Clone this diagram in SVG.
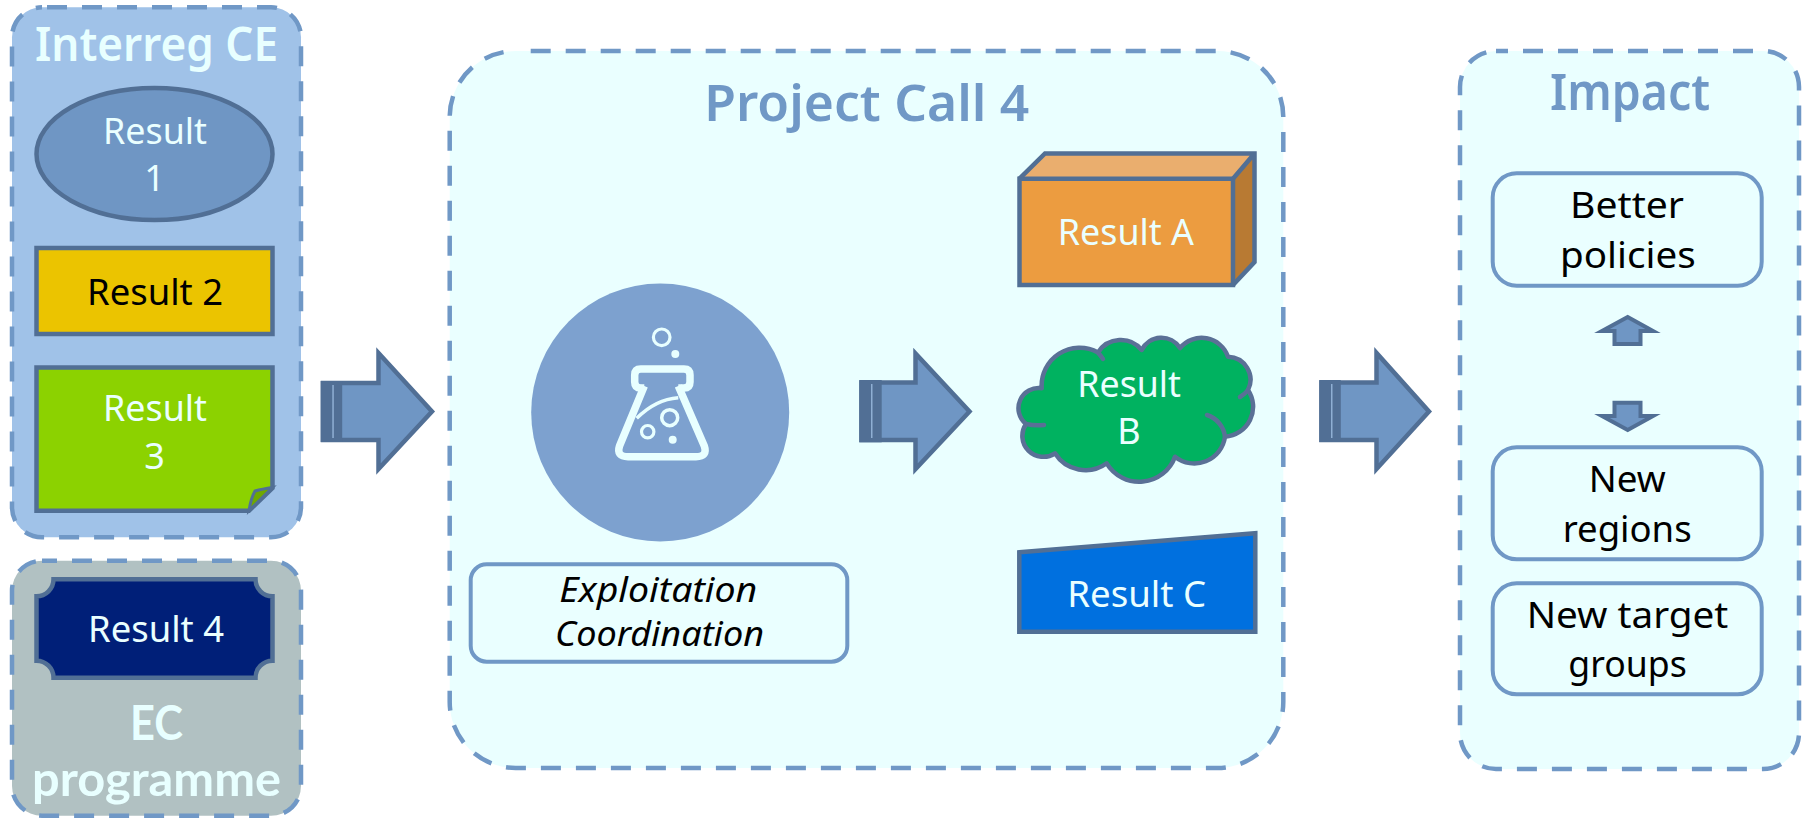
<svg xmlns="http://www.w3.org/2000/svg" width="1806" height="818" viewBox="0 0 1806 818">
<style>
text{font-family:"Noto Sans","DejaVu Sans",sans-serif}
.t{font-size:46px;font-weight:600}
.h{font-size:50px;font-weight:600}
.l{fill:#E8FFFF}.b{fill:#7098C6}
.e{font-family:Lato,"Noto Sans",sans-serif;font-size:48px;font-weight:700;fill:#E8FFFF}
.r{font-size:36px;fill:#EAFFFF}
.k{font-size:36px;fill:#000}
.i{font-size:34px;font-style:italic;fill:#000}
.p{stroke:#7098C6;stroke-width:4.5;stroke-dasharray:20 15}
.s{stroke:#516F95;stroke-width:4.5;stroke-linejoin:miter}
.c{stroke:#5A7096;stroke-width:4.5;fill:none;stroke-linecap:round}
.o{fill:#EAFFFF;stroke:#7098C6;stroke-width:4}
.a{fill:#6F96C4;stroke:#516F95;stroke-width:4.5;stroke-miterlimit:10}
.d{fill:#516F95}
.f{fill:none;stroke:#E8FFFF}
</style>
<rect width="1806" height="818" fill="#fff"/>
<g id="panel-interreg">
<rect class="p" x="12" y="7.3" width="289" height="530" rx="30" fill="#A0C2E8" stroke-dashoffset="30"/>
<text class="t l" x="35" y="61" textLength="243" lengthAdjust="spacingAndGlyphs">Interreg CE</text>
</g>
<g id="panel-ec">
<rect class="p" x="12" y="560.7" width="289" height="255" rx="30" fill="#B1C1C2" stroke-dashoffset="5"/>
<text class="e" x="130" y="740" textLength="53" lengthAdjust="spacingAndGlyphs">EC</text>
<text class="e" x="32" y="795.7" textLength="249" lengthAdjust="spacingAndGlyphs">programme</text>
</g>
<g id="panel-project">
<rect class="p" x="449.7" y="51" width="833.6" height="717" rx="66" fill="#EAFFFF" stroke-dashoffset="20"/>
<text class="h b" x="704.3" y="121" textLength="325" lengthAdjust="spacingAndGlyphs">Project Call 4</text>
</g>
<g id="panel-impact">
<rect class="p" x="1460" y="51" width="339" height="718" rx="36" fill="#EAFFFF" stroke-dashoffset="8"/>
<text class="h b" x="1550" y="110" textLength="160" lengthAdjust="spacingAndGlyphs">Impact</text>
</g>
<g id="result-1">
<ellipse class="s" cx="154.5" cy="154" rx="118" ry="66" fill="#6F96C4"/>
<text class="r" x="103" y="144" textLength="104" lengthAdjust="spacingAndGlyphs">Result</text>
<text class="r" x="154.5" y="191" text-anchor="middle">1</text>
</g>
<g id="result-2">
<rect class="s" x="36.5" y="248" width="236" height="86" fill="#EBC400"/>
<text class="k" x="87" y="304.7" textLength="136" lengthAdjust="spacingAndGlyphs">Result 2</text>
</g>
<g id="result-3">
<path class="s" d="M36.5 367.5H272.5V488L249 510.7H36.5Z" fill="#8CD200"/>
<path class="s" style="stroke-width:3" d="M249 510.7Q251 498 255 491Q262 489 272.5 487.5Z" fill="#6FA800"/>
<text class="r" x="103" y="421" textLength="104" lengthAdjust="spacingAndGlyphs">Result</text>
<text class="r" x="154.5" y="469" text-anchor="middle">3</text>
</g>
<g id="result-4">
<path class="s" d="M53.5 579.3H255.5A17 17 0 0 0 272.5 596.3V660.7A17 17 0 0 0 255.5 677.7H53.5A17 17 0 0 0 36.5 660.7V596.3A17 17 0 0 0 53.5 579.3Z" fill="#001F78"/>
<text class="r" x="88" y="642.3" textLength="136" lengthAdjust="spacingAndGlyphs">Result 4</text>
</g>
<g id="lab-icon">
<circle cx="660.2" cy="412.5" r="129" fill="#7DA1CF"/>
<circle class="f" cx="661.7" cy="337.3" r="8.3" stroke-width="3.2"/>
<circle cx="675.3" cy="354" r="4" fill="#E8FFFF"/>
<path class="f" stroke-width="7.5" stroke-linejoin="round" d="M644.3 388H640.7Q634.7 388 634.7 382V375Q634.7 369 640.7 369H684Q690 369 690 375V382Q690 388 684 388H678.3"/>
<path class="f" stroke-width="7.5" stroke-linejoin="round" d="M644.3 386L619.5 446Q616 456.7 628 456.7H696Q708 456.7 704.3 446L678.3 386"/>
<path class="f" stroke-width="3.5" d="M636.7 418.3C645 410 660 399 678.3 397.7"/>
<circle class="f" cx="669.7" cy="417.7" r="8" stroke-width="3.5"/>
<circle class="f" cx="647.7" cy="431.7" r="6.2" stroke-width="3.2"/>
<circle cx="672.7" cy="439.7" r="4" fill="#E8FFFF"/>
</g>
<g id="exploitation">
<rect class="o" x="470.7" y="564.3" width="376.6" height="97.4" rx="16"/>
<text class="i" x="559.3" y="602.3" textLength="198" lengthAdjust="spacingAndGlyphs">Exploitation</text>
<text class="i" x="555" y="646" textLength="209" lengthAdjust="spacingAndGlyphs">Coordination</text>
</g>
<g id="result-a">
<path d="M1019.5 178.7L1045 153.5H1254.5L1233 178.7Z" fill="#EAAE6E"/>
<path d="M1233 178.7L1254.5 153.5V262L1233 285Z" fill="#B87A33"/>
<path class="s" d="M1019.5 178.7H1233V285H1019.5Z" fill="#EC9C40"/>
<path class="s" fill="none" d="M1019.5 178.7L1045 153.5H1254.5V262L1233 285M1233 178.7L1254.5 153.5"/>
<text class="r" x="1057.7" y="245.3" textLength="136.3" lengthAdjust="spacingAndGlyphs">Result A</text>
</g>
<g id="result-b">
<path fill="#00B260" stroke="#5A7096" stroke-width="4.5" stroke-linejoin="round" d="M1041.7 388.3A20.2 20.2 0 0 0 1026 424A21 21 0 0 0 1055 453.3A36 36 0 0 0 1106.7 463.3A38 38 0 0 0 1175 456.7A31 31 0 0 0 1225 436.7A30 30 0 0 0 1248 390A23 23 0 0 0 1228 356.7A28 28 0 0 0 1180 348A22 22 0 0 0 1141.7 350A27 27 0 0 0 1098 352.5A38 38 0 0 0 1041.7 388.3Z"/>
<path class="c" d="M1098 352.5Q1101 356 1103 359M1026 424Q1035 426 1044 425M1225 436.7A26 26 0 0 0 1207 415M1248 390Q1245 394 1240 397"/>
<text class="r" x="1077.3" y="397.3" textLength="103.7" lengthAdjust="spacingAndGlyphs">Result</text>
<text class="r" x="1129" y="444.3" text-anchor="middle">B</text>
</g>
<g id="result-c">
<path class="s" stroke-linejoin="round" d="M1019.3 552.3L1255.3 533.3V631.7H1019.3Z" fill="#0070DF"/>
<text class="r" x="1067.3" y="606.7" textLength="138.7" lengthAdjust="spacingAndGlyphs">Result C</text>
</g>
<g id="better-policies">
<rect class="o" x="1492.7" y="173.3" width="269" height="112.4" rx="24"/>
<text class="k" x="1570" y="218.3" textLength="114" lengthAdjust="spacingAndGlyphs">Better</text>
<text class="k" x="1560" y="267.7" textLength="135.7" lengthAdjust="spacingAndGlyphs">policies</text>
</g>
<g id="new-regions">
<rect class="o" x="1492.7" y="447.3" width="269" height="112" rx="24"/>
<text class="k" x="1588.7" y="492" textLength="77" lengthAdjust="spacingAndGlyphs">New</text>
<text class="k" x="1562.7" y="542.3" textLength="129" lengthAdjust="spacingAndGlyphs">regions</text>
</g>
<g id="new-target-groups">
<rect class="o" x="1492.7" y="583.3" width="269" height="111" rx="24"/>
<text class="k" x="1526.7" y="628.3" textLength="201.6" lengthAdjust="spacingAndGlyphs">New target</text>
<text class="k" x="1568.3" y="677.3" textLength="118.4" lengthAdjust="spacingAndGlyphs">groups</text>
</g>
<g id="connectors">
<g id="arrow-1">
<path class="a" d="M323 383H378.5V353L432 411.5L378.5 469V440H323Z"/>
<rect class="d" x="320.7" y="381" width="21.5" height="61"/>
<rect x="332.3" y="385" width="1.5" height="53" fill="#8FAFD4"/>
</g>
<g id="arrow-2">
<path class="a" d="M861.5 382.5H915.5V353.5L969.5 411.5L915.5 469V440H861.5Z"/>
<rect class="d" x="859.3" y="380" width="22.4" height="62.3"/>
<rect x="871" y="384" width="1.5" height="54" fill="#8FAFD4"/>
</g>
<g id="arrow-3">
<path class="a" d="M1321.5 382.5H1376.5V353L1429 411.5L1376.5 469V440H1321.5Z"/>
<rect class="d" x="1319.3" y="380" width="21.5" height="62"/>
<rect x="1331" y="384" width="1.5" height="54" fill="#8FAFD4"/>
</g>
<path id="arrow-up" class="a" style="stroke-width:4;stroke-linejoin:miter" d="M1627.7 317L1602 331H1614.5V344H1640.5V331H1653Z"/>
<path id="arrow-down" class="a" style="stroke-width:4;stroke-linejoin:miter" d="M1614.5 402.7H1640.5V416H1653L1627.7 430L1602 416H1614.5Z"/>
</g>
</svg>
